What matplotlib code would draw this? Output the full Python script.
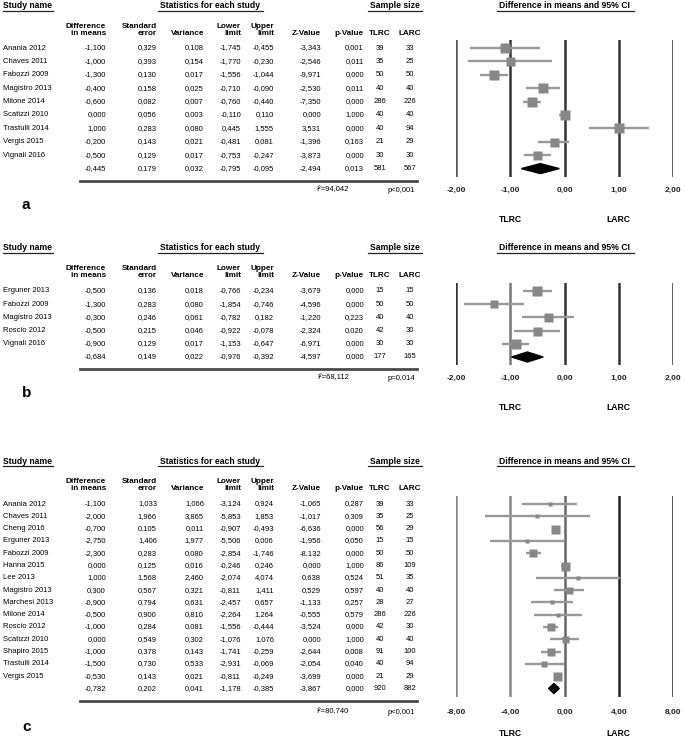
import matplotlib
matplotlib.use("Agg")
import matplotlib.pyplot as plt
from matplotlib.patches import Polygon

plt.rcParams["font.family"] = ["Liberation Sans", "DejaVu Sans"]

W, H = 685, 741

# ---- panel a ----  (numeric lists: one entry per study, last entry = pooled)
a_names = ["Anania 2012", "Chaves 2011", "Fabozzi 2009", "Magistro 2013", "Milone 2014",
           "Scatizzi 2010", "Trastulli 2014", "Vergis 2015", "Vignali 2016"]
a_diff = [-1.100, -1.000, -1.300, -0.400, -0.600, 0.000, 1.000, -0.200, -0.500, -0.445]
a_se = [0.329, 0.393, 0.130, 0.158, 0.082, 0.056, 0.283, 0.143, 0.129, 0.179]
a_var = [0.108, 0.154, 0.017, 0.025, 0.007, 0.003, 0.080, 0.021, 0.017, 0.032]
a_low = [-1.745, -1.770, -1.556, -0.710, -0.760, -0.110, 0.445, -0.481, -0.753, -0.795]
a_up = [-0.455, -0.230, -1.044, -0.090, -0.440, 0.110, 1.555, 0.081, -0.247, -0.095]
a_z = [-3.343, -2.546, -9.971, -2.530, -7.350, 0.000, 3.531, -1.396, -3.873, -2.494]
a_p = [0.001, 0.011, 0.000, 0.011, 0.000, 1.000, 0.000, 0.163, 0.000, 0.013]
a_tlrc = [39, 35, 50, 40, 286, 40, 40, 21, 30, 581]
a_larc = [33, 25, 50, 40, 226, 40, 94, 29, 30, 567]
a_het = ["I²=94,042", "p<0,001"]
a_ticks = [-2, -1, 0, 1, 2]
a_ticklabels = ["-2,00", "-1,00", "0,00", "1,00", "2,00"]

# ---- panel b ----
b_names = ["Erguner 2013", "Fabozzi 2009", "Magistro 2013", "Roscio 2012", "Vignali 2016"]
b_diff = [-0.500, -1.300, -0.300, -0.500, -0.900, -0.684]
b_se = [0.136, 0.283, 0.246, 0.215, 0.129, 0.149]
b_var = [0.018, 0.080, 0.061, 0.046, 0.017, 0.022]
b_low = [-0.766, -1.854, -0.782, -0.922, -1.153, -0.976]
b_up = [-0.234, -0.746, 0.182, -0.078, -0.647, -0.392]
b_z = [-3.679, -4.596, -1.220, -2.324, -6.971, -4.597]
b_p = [0.000, 0.000, 0.223, 0.020, 0.000, 0.000]
b_tlrc = [15, 50, 40, 42, 30, 177]
b_larc = [15, 50, 40, 30, 30, 165]
b_het = ["I²=68,112", "p=0,014"]
b_ticks = [-2, -1, 0, 1, 2]
b_ticklabels = ["-2,00", "-1,00", "0,00", "1,00", "2,00"]

# ---- panel c ----
c_names = ["Anania 2012", "Chaves 2011", "Cheng 2016", "Erguner 2013", "Fabozzi 2009",
           "Hanna 2015", "Lee 2013", "Magistro 2013", "Marchesi 2013", "Milone 2014",
           "Roscio 2012", "Scatizzi 2010", "Shapiro 2015", "Trastulli 2014", "Vergis 2015"]
c_diff = [-1.100, -2.000, -0.700, -2.750, -2.300, 0.000, 1.000, 0.300, -0.900, -0.500,
          -1.000, 0.000, -1.000, -1.500, -0.530, -0.782]
c_se = [1.033, 1.966, 0.105, 1.406, 0.283, 0.125, 1.568, 0.567, 0.794, 0.900,
        0.284, 0.549, 0.378, 0.730, 0.143, 0.202]
c_var = [1.066, 3.865, 0.011, 1.977, 0.080, 0.016, 2.460, 0.321, 0.631, 0.810,
         0.081, 0.302, 0.143, 0.533, 0.021, 0.041]
c_low = [-3.124, -5.853, -0.907, -5.506, -2.854, -0.246, -2.074, -0.811, -2.457, -2.264,
         -1.556, -1.076, -1.741, -2.931, -0.811, -1.178]
c_up = [0.924, 1.853, -0.493, 0.006, -1.746, 0.246, 4.074, 1.411, 0.657, 1.264,
        -0.444, 1.076, -0.259, -0.069, -0.249, -0.385]
c_z = [-1.065, -1.017, -6.636, -1.956, -8.132, 0.000, 0.638, 0.529, -1.133, -0.555,
       -3.524, 0.000, -2.644, -2.054, -3.699, -3.867]
c_p = [0.287, 0.309, 0.000, 0.050, 0.000, 1.000, 0.524, 0.597, 0.257, 0.579,
       0.000, 1.000, 0.008, 0.040, 0.000, 0.000]
c_tlrc = [39, 35, 56, 15, 50, 86, 51, 40, 28, 286, 42, 40, 91, 40, 21, 920]
c_larc = [33, 25, 29, 15, 50, 109, 35, 40, 27, 226, 30, 40, 100, 94, 29, 882]
c_het = ["I²=80,740", "p<0,001"]
c_ticks = [-8, -4, 0, 4, 8]
c_ticklabels = ["-8,00", "-4,00", "0,00", "4,00", "8,00"]

# box side lengths in pixels (style only)
a_box = [10, 9, 10, 10, 10, 10, 10, 9, 9]
b_box = [10, 8, 9, 9, 10]
c_box = [5, 5, 9, 5, 8, 9, 5, 7, 5, 5, 8, 7, 8, 6, 9]

fig = plt.figure(figsize=(W / 100, H / 100), dpi=100)
base = fig.add_axes([0, 0, 1, 1])
base.set_xlim(0, W)
base.set_ylim(H, 0)
base.axis("off")

col_right = [106, 157, 204, 241, 274, 321, 364]
n_center = [380, 410]
headers = ["Difference\nin means", "Standard\nerror", "Variance", "Lower\nlimit",
           "Upper\nlimit", "Z-Value", "p-Value"]
FX0, FX1 = 456, 673
FS = 5.5


def fmt(v):
    return f"{v:.3f}".replace(".", ",")


def panel(tag, names, cols, ntl, nla, het, ticks, ticklabels, box, vcols, lay):
    top, r0, dr = lay["top"], lay["r0"], lay["dr"]
    n = len(names)

    # group headers with underlines
    base.text(3, top, "Study name", fontsize=6.2, weight="bold", ha="left", va="center")
    base.plot([3, 53], [top + 5, top + 5], color="#222222", lw=0.9)
    base.text(210, top, "Statistics for each study", fontsize=6.2, weight="bold",
              ha="center", va="center")
    base.plot([158, 263], [top + 5, top + 5], color="#222222", lw=0.9)
    base.text(395, top, "Sample size", fontsize=6.2, weight="bold", ha="center", va="center")
    base.plot([368, 422], [top + 5, top + 5], color="#222222", lw=0.9)
    base.text(565, top, "Difference in means and 95% CI", fontsize=6.2, weight="bold",
              ha="center", va="center")
    base.plot([497, 634], [top + 5, top + 5], color="#222222", lw=0.9)

    for x, h in zip(col_right, headers):
        base.text(x, top + 29, h, fontsize=5.9, weight="bold", ha="right",
                  va="baseline", multialignment="right", linespacing=1.05)
    base.text(n_center[0], top + 29, "TLRC", fontsize=5.9, weight="bold",
              ha="center", va="baseline")
    base.text(n_center[1], top + 29, "LARC", fontsize=5.9, weight="bold",
              ha="center", va="baseline")

    for i in range(n + 1):
        y = r0 + i * dr
        if i < n:
            base.text(3, y, names[i], fontsize=FS, ha="left", va="center")
        for x, col in zip(col_right, cols):
            base.text(x, y, fmt(col[i]), fontsize=FS, ha="right", va="center")
        base.text(n_center[0], y, str(ntl[i]), fontsize=FS, ha="center", va="center")
        base.text(n_center[1], y, str(nla[i]), fontsize=FS, ha="center", va="center")

    base.plot([80, 417], [lay["line"], lay["line"]], color="#4a4a4a", lw=2)
    base.text(349, lay["stat"], het[0], fontsize=FS, ha="right", va="center")
    base.text(415, lay["stat"], het[1], fontsize=FS, ha="right", va="center")
    base.text(22, lay["label"], tag, fontsize=11, weight="bold", ha="left", va="center")

    # forest plot
    vtop, vbot = lay["vtop"], lay["vbot"]
    ax = fig.add_axes([FX0 / W, 1 - vbot / H, (FX1 - FX0) / W, (vbot - vtop) / H])
    ax.set_xlim(ticks[0], ticks[-1])
    ax.set_ylim((vbot - r0) / dr, (vtop - r0) / dr)
    ax.patch.set_alpha(0)
    for s in ax.spines.values():
        s.set_visible(False)
    ax.set_yticks([])
    for x, c in zip(ticks, vcols):
        ax.axvline(x, color=c, lw=1.8, zorder=1)
    diff, low, up = cols[0], cols[3], cols[4]
    for i in range(n):
        ax.plot([low[i], up[i]], [i, i], color="#999999", lw=1.7,
                solid_capstyle="butt", zorder=2, clip_on=False)
        ax.plot(diff[i], i, marker="s", ms=box[i] * 0.72, color="#878787",
                mec="none", zorder=3, clip_on=False)
    h = 5 / dr
    ax.add_patch(Polygon([(low[n], n), (diff[n], n - h), (up[n], n), (diff[n], n + h)],
                         closed=True, color="black", zorder=4, clip_on=False))
    ax.set_xticks(ticks)
    ax.set_xticklabels(ticklabels, fontsize=6, weight="bold")
    pad = (lay["stat"] - 3.5 - vbot) * 0.72
    ax.tick_params(axis="x", length=0, pad=pad, colors="#222222")
    sy = (lay["side"] - r0) / dr
    ax.text(ticks[1], sy, "TLRC", fontsize=6.2, weight="bold", ha="center", va="center",
            clip_on=False)
    ax.text(ticks[3], sy, "LARC", fontsize=6.2, weight="bold", ha="center", va="center",
            clip_on=False)


panel("a", a_names, [a_diff, a_se, a_var, a_low, a_up, a_z, a_p], a_tlrc, a_larc,
      a_het, a_ticks, a_ticklabels, a_box,
      ["#555555", "#333333", "#333333", "#333333", "#333333"],
      dict(top=6, r0=48, dr=13.4, vtop=40, vbot=177, line=181, stat=190, label=205, side=220))
panel("b", b_names, [b_diff, b_se, b_var, b_low, b_up, b_z, b_p], b_tlrc, b_larc,
      b_het, b_ticks, b_ticklabels, b_box,
      ["#333333", "#777777", "#333333", "#333333", "#333333"],
      dict(top=248, r0=291, dr=13.2, vtop=283, vbot=365, line=369, stat=378, label=393, side=408))
panel("c", c_names, [c_diff, c_se, c_var, c_low, c_up, c_z, c_p], c_tlrc, c_larc,
      c_het, c_ticks, c_ticklabels, c_box,
      ["#888888", "#888888", "#666666", "#222222", "#222222"],
      dict(top=461, r0=504, dr=12.3, vtop=496, vbot=697, line=701, stat=712, label=727, side=733))

fig.savefig("out.png", dpi=100)
plt.close(fig)
